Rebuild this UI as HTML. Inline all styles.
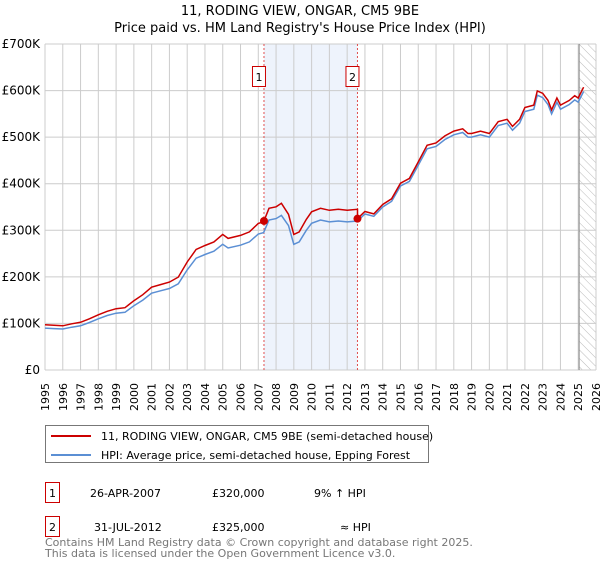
<!DOCTYPE html>
<html><head><meta charset="utf-8"><style>
body{margin:0;background:#fff;font-family:"DejaVu Sans","Liberation Sans",sans-serif;}
svg text{font-family:"DejaVu Sans","Liberation Sans",sans-serif;}
</style></head><body>
<svg id="c" width="600" height="560" xmlns="http://www.w3.org/2000/svg">
<defs><pattern id="hatch" width="6" height="6" patternUnits="userSpaceOnUse" patternTransform="rotate(-45)"><line x1="0" y1="0" x2="0" y2="6" stroke="#bbb" stroke-width="1"/></pattern></defs>
<text x="300" y="15" text-anchor="middle" font-size="13">11, RODING VIEW, ONGAR, CM5 9BE</text>
<text x="300" y="32" text-anchor="middle" font-size="13">Price paid vs. HM Land Registry's House Price Index (HPI)</text>
<g id="plot"></g>
<g>
<rect x="45.5" y="425.5" width="383" height="37" fill="#fff" stroke="#777"/>
<line x1="51" y1="436" x2="91" y2="436" stroke="#cc0000" stroke-width="2"/>
<text x="101" y="440" font-size="11">11, RODING VIEW, ONGAR, CM5 9BE (semi-detached house)</text>
<line x1="51" y1="455" x2="91" y2="455" stroke="#5b8fd4" stroke-width="2"/>
<text x="101" y="459" font-size="11">HPI: Average price, semi-detached house, Epping Forest</text>
</g>
<g font-size="11">
<rect x="45.5" y="482.5" width="14" height="20" fill="#fff" stroke="#cc0000"/><text x="52.5" y="497" text-anchor="middle">1</text>
<text x="90" y="497">26-APR-2007</text><text x="212" y="497">£320,000</text><text x="314" y="497">9% ↑ HPI</text>
<rect x="45.5" y="516.5" width="14" height="20" fill="#fff" stroke="#cc0000"/><text x="52.5" y="531" text-anchor="middle">2</text>
<text x="94" y="531">31-JUL-2012</text><text x="212" y="531">£325,000</text><text x="340" y="531">≈ HPI</text>
</g>
<text x="45" y="546" font-size="11" fill="#777">Contains HM Land Registry data © Crown copyright and database right 2025.</text>
<text x="45" y="557" font-size="11" fill="#777">This data is licensed under the Open Government Licence v3.0.</text>
</svg>
<script>
const hpiYears=[1995,1995.5,1996,1996.5,1997,1997.5,1998,1998.5,1999,1999.5,2000,2000.5,2001,2001.5,2002,2002.5,2003,2003.5,2004,2004.5,2005,2005.3,2006,2006.5,2007,2007.3,2007.6,2008,2008.3,2008.7,2009,2009.3,2009.7,2010,2010.5,2011,2011.5,2012,2012.58,2013,2013.5,2014,2014.5,2015,2015.5,2016,2016.5,2017,2017.5,2018,2018.5,2018.8,2019,2019.5,2020,2020.5,2021,2021.3,2021.7,2022,2022.5,2022.7,2023,2023.3,2023.5,2023.8,2024,2024.5,2024.8,2025,2025.3];
const hpiValues=[90,89,88,92,95,102,110,117,122,124,138,150,165,170,175,185,215,240,248,255,270,262,268,275,292,295,322,325,332,310,270,275,300,315,322,318,320,318,320,335,330,350,362,395,405,440,475,480,495,505,510,500,500,505,500,525,530,515,530,555,560,590,585,570,550,575,560,570,580,575,598];
const saleYears=[2007.32,2012.58];
const salePrices=[320,325];
const yTicks=[0,100,200,300,400,500,600,700];
const yTickLabels=["£0","£100K","£200K","£300K","£400K","£500K","£600K","£700K"];
const xTicks=[1995,1996,1997,1998,1999,2000,2001,2002,2003,2004,2005,2006,2007,2008,2009,2010,2011,2012,2013,2014,2015,2016,2017,2018,2019,2020,2021,2022,2023,2024,2025,2026];
const X0=45,X1=596,Y0=370,Y1=44;
const xs=y=>X0+(y-1995)/(2026-1995)*(X1-X0);
const ys=v=>Y0-v/700*(Y0-Y1);
const NS="http://www.w3.org/2000/svg";
const g=document.getElementById('plot');
function mk(t,a,p){const e=document.createElementNS(NS,t);for(const k in a)e.setAttribute(k,a[k]);(p||g).appendChild(e);return e;}
function hpiAt(t){for(let i=1;i<hpiYears.length;i++){if(t<=hpiYears[i]){const f=(t-hpiYears[i-1])/(hpiYears[i]-hpiYears[i-1]);return hpiValues[i-1]+f*(hpiValues[i]-hpiValues[i-1]);}}return hpiValues[hpiValues.length-1];}
let sh=mk('rect',{x:xs(saleYears[0]),y:Y1,width:xs(saleYears[1])-xs(saleYears[0]),height:Y0-Y1,fill:'#eef3fc'});

let ht=mk('rect',{x:xs(2025.05),y:Y1,width:X1-xs(2025.05),height:Y0-Y1,fill:'url(#hatch)'});

xTicks.forEach(t=>{const l=mk('line',{x1:xs(t),x2:xs(t),y1:Y1,y2:Y0,stroke:'#ccc'});
const tx=mk('text',{x:xs(t)+4,y:383,'text-anchor':'end','font-size':'11',transform:`rotate(-90 ${xs(t)+4} 383)`});tx.textContent=t;});
yTicks.forEach((t,i)=>{const l=mk('line',{x1:X0,x2:X1,y1:ys(t),y2:ys(t),stroke:'#ccc'});
const tx=mk('text',{x:40,y:ys(t)+4,'text-anchor':'end','font-size':'12'});tx.textContent=yTickLabels[i];});
mk('line',{x1:xs(2025.05),x2:xs(2025.05),y1:Y1,y2:Y0,stroke:'#888'});
saleYears.forEach((s,i)=>{const l=mk('line',{x1:xs(s),x2:xs(s),y1:Y1,y2:Y0,stroke:'#e05050','stroke-dasharray':'2,2'});
const r=mk('rect',{x:xs(s)-11.5,y:66.5,width:13,height:20,fill:'#fff',stroke:'#cc0000'});
const tx=mk('text',{x:xs(s)-5,y:81,'text-anchor':'middle','font-size':'11'});tx.textContent=i+1;});
const k1=salePrices[0]/hpiAt(saleYears[0]),k2=salePrices[1]/hpiAt(saleYears[1]);
let bp='',rp='';
hpiYears.forEach((y,i)=>{const v=hpiValues[i];bp+=(i?'L':'M')+xs(y).toFixed(1)+','+ys(v).toFixed(1);});
const pts=[];hpiYears.forEach(y=>{if(y<saleYears[1])pts.push([y,hpiAt(y)*k1]);});
pts.push([saleYears[1],hpiAt(saleYears[1])*k1]);pts.push([saleYears[1],salePrices[1]]);
hpiYears.forEach(y=>{if(y>saleYears[1])pts.push([y,hpiAt(y)*k2]);});
pts.forEach((p,i)=>{rp+=(i?'L':'M')+xs(p[0]).toFixed(1)+','+ys(p[1]).toFixed(1);});
const b=mk('path',{d:bp,fill:'none',stroke:'#5b8fd4','stroke-width':'1.5'});
const r=mk('path',{d:rp,fill:'none',stroke:'#cc0000','stroke-width':'1.5'});
saleYears.forEach((s,i)=>{const c=mk('circle',{cx:xs(s),cy:ys(salePrices[i]),r:4,fill:'#cc0000'});});
</script>
</body></html>
